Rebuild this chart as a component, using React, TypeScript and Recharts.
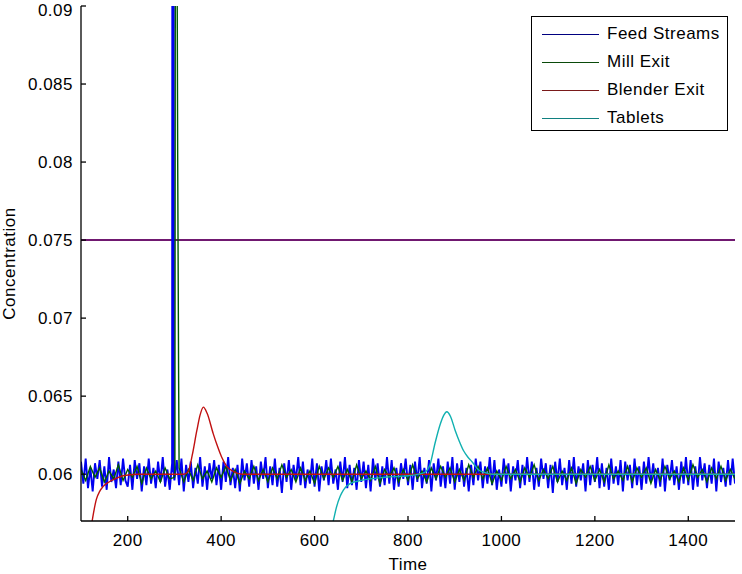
import React from 'react';
import { LineChart, Line, XAxis, YAxis, ReferenceLine, Legend } from 'recharts';

// sampled times of the noisy streams
const feedTimes = Array.from({ length: 281 }, (_, i) => 100 + i * 5);
const millTimes = Array.from({ length: 141 }, (_, i) => 100 + i * 10);

// deviations from 0.06, in units of 1e-4
const feedNoise = [
  8, -6, 10, -9, 4, -11, 7, -3, 9, -8, 5, -10, 11, -5, 3, -9, 8, -7, 10, -4,
  -8, 6, -10, 9, -3, 7, -11, 5, -7, 10, -6, 4, -9, 8, -5, 11, -8, 3, -10, 7,
  -4, 9, -7, 10, -11, 6, -5, 8, -9, 4, -6, 11, -8, 5, -10, 7, -3, 9, -7, 6,
  -10, 8, -5, 11, -7, 4, -9, 6, -11, 10, -4, 7, -8, 9, -6, 5, -10, 8, -3, 11,
  -9, 5, -7, 10, -8, 4, -12, 7, -5, 9, -10, 6, -4, 11, -7, 8, -9, 3, -6, 10,
  -8, 7, -11, 5, -4, 9, -7, 10, -6, 3, -10, 8, -5, 11, -9, 6, -7, 4, -10, 9,
  -5, 8, -9, 6, -11, 10, -4, 7, -8, 5, -7, 11, -6, 9, -10, 4, -8, 7, -3, 10,
  -7, 6, -10, 8, -5, 11, -9, 4, -6, 9, -11, 7, -4, 10, -8, 5, -9, 8, -6, 11,
  -10, 7, -5, 9, -8, 4, -11, 6, -7, 10, -4, 8, -9, 5, -6, 11, -7, 9, -10, 3,
  -8, 10, -6, 7, -11, 5, -4, 9, -9, 6, -7, 11, -5, 8, -10, 4, -8, 10, -3, 7,
  -9, 6, -12, 8, -5, 10, -7, 4, -10, 9, -6, 11, -8, 5, -4, 7, -11, 9, -7, 6,
  -5, 11, -9, 7, -8, 4, -10, 10, -6, 5, -7, 9, -11, 8, -4, 6, -9, 10, -7, 5,
  -10, 8, -6, 11, -5, 7, -9, 4, -8, 10, -11, 6, -4, 9, -7, 5, -10, 8, -6, 11,
  -7, 9, -10, 5, -8, 11, -4, 7, -9, 6, -6, 10, -11, 8, -5, 4, -8, 9, -7, 10,
  -6,
];
const millNoise = [
  3, -4, 5, -2, 4, -5, 2, -3, 6, -4, 3, -2, 5, -6, 4, -3, 2, -5, 4, -3,
  -2, 4, -5, 3, -4, 6, -3, 2, -5, 4, -2, 5, -4, 3, -6, 2, -3, 5, -4, 3,
  -5, 4, -3, 6, -2, 3, -5, 4, -4, 2, -6, 5, -3, 4, -2, 5, -4, 3, -5, 6,
  -3, 2, -4, 5, -6, 3, -2, 4, -5, 3, -4, 6, -3, 2, -5, 4, -3, 5, -2, 4,
  -5, 3, -4, 6, -2, 5, -3, 4, -6, 2, -4, 5, -3, 3, -5, 4, -2, 6, -4, 3,
  -3, 5, -5, 2, -4, 4, -6, 3, -2, 5, -4, 3, -5, 6, -3, 2, -4, 5, -5, 4,
  -2, 4, -6, 3, -4, 5, -3, 2, -5, 4, -4, 6, -2, 3, -5, 4, -3, 5, -4, 3,
  -3,
];

// pulse disturbance [time, concentration]
const feedSpike = [[295, 0.0601], [297, 0.2], [299, 0.0598]];
const millSpike = [[301, 0.0602], [303, 0.13], [305, 0.1], [307, 0.08], [309, 0.066]];

const blenderTimes = [100, 110, 118, 125, 133, 140, 147, 160, 173, 190, 220, 320, 330, 338, 348, 355, 362, 370, 383, 392, 401, 412, 425, 445, 1500];
const blenderValues = [0.05, 0.0535, 0.0558, 0.0572, 0.0584, 0.0589, 0.0592, 0.0595, 0.0597, 0.0599, 0.06, 0.06, 0.0602, 0.0612, 0.0628, 0.0638, 0.0643, 0.0639, 0.0626, 0.0618, 0.0611, 0.0605, 0.0602, 0.06, 0.06];

const tabletTimes = [600, 620, 632, 640, 647, 655, 662, 676, 700, 750, 800, 835, 847, 858, 869, 877, 883, 891, 901, 910, 919, 928, 937, 950, 965, 980, 1500];
const tabletValues = [0.052, 0.0545, 0.056, 0.057, 0.0579, 0.0586, 0.059, 0.0594, 0.0596, 0.0598, 0.0599, 0.0601, 0.0606, 0.062, 0.0632, 0.0638, 0.064, 0.0637, 0.0628, 0.0621, 0.0615, 0.0611, 0.0608, 0.0603, 0.0601, 0.06, 0.06];

const limitValue = 0.075;
const xTicks = [200, 400, 600, 800, 1000, 1200, 1400];
const yTicks = [0.06, 0.065, 0.07, 0.075, 0.08, 0.085, 0.09];

const withSpike = (times: number[], noise: number[], spike: number[][]) =>
  times
    .map((t, i) => ({ t, v: 0.06 + noise[i] * 1e-4 }))
    .concat(spike.map(([t, v]) => ({ t, v })))
    .sort((a, b) => a.t - b.t);

const feedData = withSpike(feedTimes, feedNoise, feedSpike);
const millData = withSpike(millTimes, millNoise, millSpike);
const blenderData = blenderTimes.map((t, i) => ({ t, v: blenderValues[i] }));
const tabletData = tabletTimes.map((t, i) => ({ t, v: tabletValues[i] }));

const series = [
  { name: 'Feed Streams', color: '#0000f0', legend: '#000080', width: 1.9, data: feedData, type: 'linear' },
  { name: 'Mill Exit', color: '#005a00', legend: '#0a4a0a', width: 1.4, data: millData, type: 'linear' },
  { name: 'Blender Exit', color: '#c01010', legend: '#7a1a1a', width: 1.4, data: blenderData, type: 'monotone' },
  { name: 'Tablets', color: '#10b0b0', legend: '#108080', width: 1.4, data: tabletData, type: 'monotone' },
];

const font = { fontFamily: '"Liberation Sans", Arial, sans-serif', fontSize: 17, letterSpacing: 0.5, fill: '#000' };

const LegendBox = () => (
  <div
    style={{
      width: 195,
      height: 110,
      border: '1.5px solid #000',
      background: '#fff',
      boxSizing: 'content-box',
      paddingTop: 3,
      fontFamily: font.fontFamily,
      fontSize: 17,
      letterSpacing: 0.5,
      color: '#000',
    }}
  >
    {series.map((s) => (
      <div key={s.name} style={{ height: 28, display: 'flex', alignItems: 'center' }}>
        <div style={{ width: 57, height: 0, borderTop: `1.5px solid ${s.legend}`, marginLeft: 10, marginRight: 8 }} />
        <span>{s.name}</span>
      </div>
    ))}
  </div>
);

export default function App() {
  return (
    <div style={{ position: 'absolute', left: 0, top: 0, width: 742, height: 574, background: '#fff' }}>
      <LineChart width={742} height={574} margin={{ top: 6, right: 7, left: 0, bottom: 0 }}>
        <XAxis
          xAxisId="bottom"
          dataKey="t"
          type="number"
          domain={[100, 1500]}
          allowDataOverflow
          ticks={xTicks}
          height={53}
          tickSize={-5}
          tickMargin={18}
          tick={font}
          stroke="#000"
          strokeWidth={1.3}
          label={{ value: 'Time', position: 'insideBottom', offset: 4, style: font }}
        />
        <XAxis
          xAxisId="top"
          orientation="top"
          dataKey="t"
          type="number"
          domain={[100, 1500]}
          allowDataOverflow
          ticks={xTicks}
          height={0}
          tickSize={-5}
          tickFormatter={() => ''}
          stroke="#000"
          strokeWidth={1.3}
        />
        <YAxis
          yAxisId="left"
          type="number"
          domain={[0.057, 0.09]}
          allowDataOverflow
          ticks={yTicks}
          width={81}
          tickSize={-5}
          tickMargin={13}
          tick={font}
          stroke="#000"
          strokeWidth={1.3}
          label={{
            value: 'Concentration',
            angle: -90,
            position: 'insideLeft',
            offset: 8.5,
            style: { ...font, textAnchor: 'middle' },
          }}
        />
        <YAxis
          yAxisId="right"
          orientation="right"
          type="number"
          domain={[0.057, 0.09]}
          allowDataOverflow
          ticks={yTicks}
          width={0}
          tickSize={-5}
          tickFormatter={() => ''}
          stroke="#000"
          strokeWidth={1.3}
        />
        <ReferenceLine xAxisId="bottom" yAxisId="left" y={limitValue} stroke="#701870" strokeWidth={2} />
        {series.map((s) => (
          <Line
            key={s.name}
            xAxisId="bottom"
            yAxisId="left"
            data={s.data}
            dataKey="v"
            name={s.name}
            type={s.type as 'linear' | 'monotone'}
            stroke={s.color}
            strokeWidth={s.width}
            dot={false}
            activeDot={false}
            isAnimationActive={false}
          />
        ))}
        <Legend
          layout="horizontal"
          verticalAlign="middle"
          align="center"
          wrapperStyle={{ left: 531, top: 16, width: 'auto' }}
          content={() => <LegendBox />}
        />
      </LineChart>
    </div>
  );
}
